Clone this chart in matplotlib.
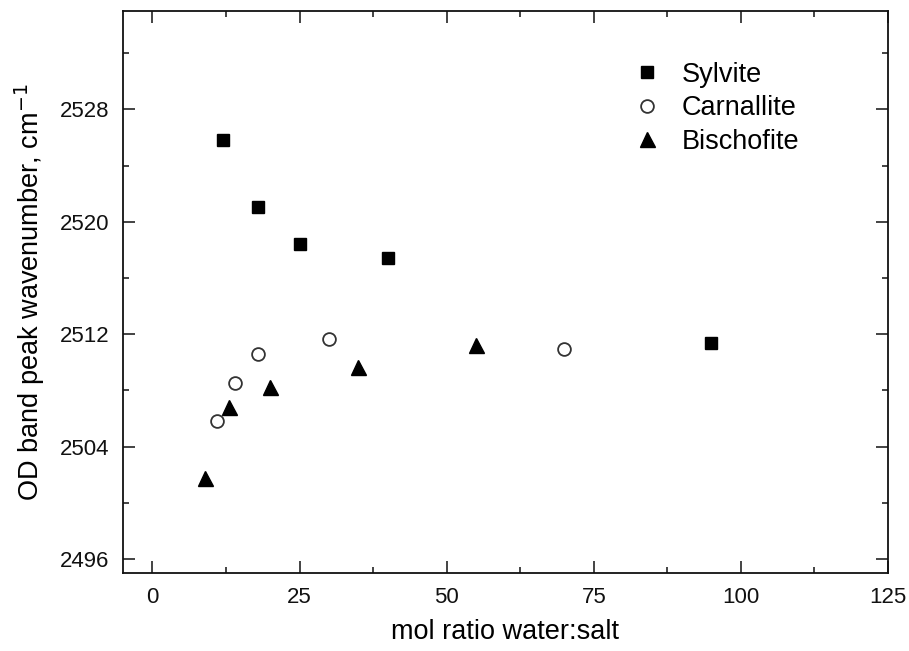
import matplotlib
matplotlib.use("Agg")
import matplotlib.pyplot as plt
from matplotlib.ticker import MultipleLocator

plt.rcParams['font.family'] = ['Liberation Sans', 'DejaVu Sans']

sylvite_x = [12, 18, 25, 40, 95]
sylvite_y = [2525.8, 2521.05, 2518.45, 2517.45, 2511.35]

carnallite_x = [11, 14, 18, 30, 70]
carnallite_y = [2505.8, 2508.5, 2510.57, 2511.64, 2510.92]

bischofite_x = [9, 13, 20, 35, 55]
bischofite_y = [2501.73, 2506.83, 2508.25, 2509.63, 2511.2]

xticks = [0, 25, 50, 75, 100, 125]
yticks = [2496, 2504, 2512, 2520, 2528]

fig = plt.figure(figsize=(9.09, 6.51), dpi=100)
ax = fig.add_axes([0.1353, 0.1198, 0.8416, 0.8633])

ax.plot(sylvite_x, sylvite_y, linestyle='none', marker='s', markersize=8.8,
        color='black', label='Sylvite')
ax.plot(carnallite_x, carnallite_y, linestyle='none', marker='o', markersize=9.2,
        markerfacecolor='white', markeredgecolor='#333333', markeredgewidth=1.3,
        label='Carnallite')
ax.plot(bischofite_x, bischofite_y, linestyle='none', marker='^', markersize=10.8,
        color='black', label='Bischofite')

ax.set_xlim(-5, 125)
ax.set_ylim(2495, 2535)
ax.set_xticks(xticks)
ax.set_yticks(yticks)
ax.xaxis.set_minor_locator(MultipleLocator(12.5))
ax.yaxis.set_minor_locator(MultipleLocator(4))

ax.tick_params(which='both', direction='in', top=True, right=True, width=1.1,
               labelsize=16, pad=10, colors='#111111')
ax.tick_params(which='major', length=8.6)
ax.tick_params(which='minor', length=4.3)
for s in ax.spines.values():
    s.set_linewidth(1.3)
    s.set_color('#111111')

ax.set_xlabel('mol ratio water:salt', fontsize=19.5, labelpad=8)
ax.set_ylabel('OD band peak wavenumber, cm$^{-1}$', fontsize=19.5, labelpad=9)

leg = ax.legend(loc='upper left', bbox_to_anchor=(0.667, 0.91), frameon=False,
                fontsize=19.5, handlelength=1.0, handletextpad=0.8,
                labelspacing=0.28, borderpad=0, borderaxespad=0)

fig.savefig('out.png', dpi=100)
